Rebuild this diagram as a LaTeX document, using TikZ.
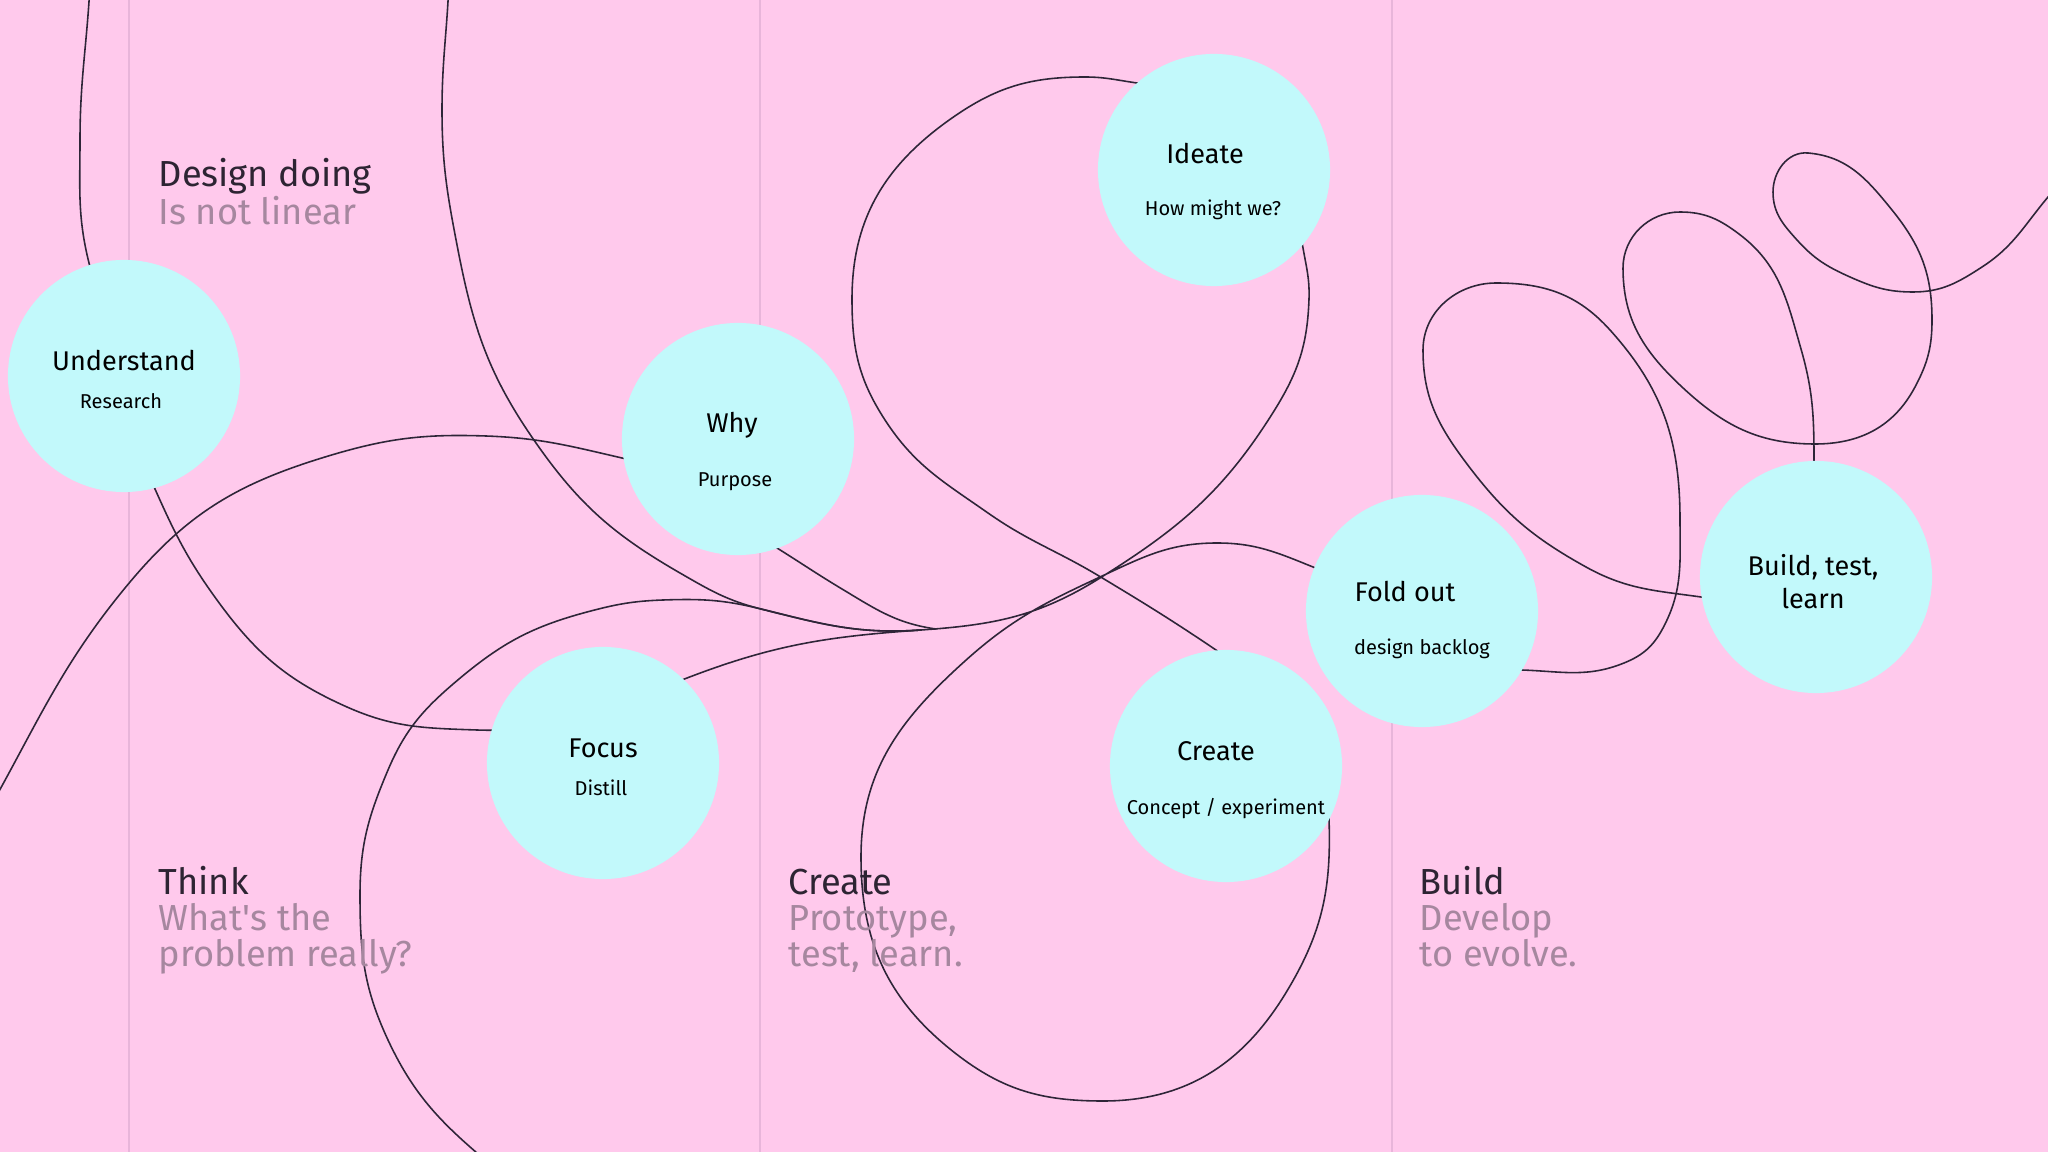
\documentclass[tikz,border=0pt]{standalone}
\usepackage{fontspec}
\setmainfont{Fira Sans}
\usetikzlibrary{backgrounds}

\definecolor{pagepink}{HTML}{FFC9EC}
\definecolor{bubblecyan}{HTML}{C2F9FB}
\definecolor{inkline}{HTML}{2E2538}
\definecolor{headdark}{HTML}{2D2433}
\definecolor{headsoft}{HTML}{A6879F}
\definecolor{rulepink}{HTML}{E8B5DA}

\begin{document}
\begin{tikzpicture}[x=0.01cm, y=-0.01cm,
    bubble/.style={circle, fill=bubblecyan, minimum size=2.32cm, inner sep=0pt},
    maintxt/.style={anchor=base, text=black, font=\fontsize{7.7}{9.7}\selectfont},
    subtxt/.style={anchor=base, text=black, font=\fontsize{5.7}{7}\selectfont},
    headtxt/.style={anchor=base west, inner sep=0pt, text=headdark, font=\fontsize{10.3}{12}\selectfont},
    headsub/.style={headtxt, text=headsoft},
    scribble/.style={draw=inkline, line width=0.45pt, line join=round, line cap=round}]

        % page size
        \useasboundingbox (0,0) rectangle (2048,1152);

        % the bubbles
        \node[bubble] (und) at (124,376) {};
        \node[bubble] (why) at (738,439) {};
        \node[bubble] (ideate) at (1214,170) {};
        \node[bubble] (focus) at (603,763) {};
        \node[bubble] (create) at (1226,766) {};
        \node[bubble] (fold) at (1422,611) {};
        \node[bubble] (build) at (1816,577) {};

        % bubble texts
        \node[maintxt] (undtitle) at (124,371) {Understand};
        \node[subtxt] (undsub) at (121,409) {Research};
        \node[maintxt] (whytitle) at (732,433) {Why};
        \node[subtxt] (whysub) at (735,487) {Purpose};
        \node[maintxt] (ideatetitle) at (1205,164) {Ideate};
        \node[subtxt] (ideatesub) at (1213,216) {How might we?};
        \node[maintxt] (focustitle) at (603,757) {Focus};
        \node[subtxt] (focussub) at (601,795) {Distill};
        \node[maintxt] (createtitle) at (1216,760) {Create};
        \node[subtxt] (createsub) at (1226,814) {Concept / experiment};
        \node[maintxt] (foldtitle) at (1405,602) {Fold out};
        \node[subtxt] (foldsub) at (1422,655) {design backlog};
        \node[maintxt] (buildtitle) at (1813,575) {Build, test,};
        \node[maintxt] (buildtitleb) at (1813,608) {learn};

        % headings
        \node[headtxt] (design) at (158,187) {Design doing};
        \node[headsub] (designsub) at (158,225) {Is not linear};
        \node[headtxt] (think) at (158,894) {Think};
        \node[headsub] (thinka) at (158,930) {What\textquotesingle s the};
        \node[headsub] (thinkb) at (158,966) {problem really?};
        \node[headtxt] (proto) at (788,894) {Create};
        \node[headsub] (protoa) at (788,930) {Prototype,};
        \node[headsub] (protob) at (788,966) {test, learn.};
        \node[headtxt] (dev) at (1419,894) {Build};
        \node[headsub] (deva) at (1419,930) {Develop};
        \node[headsub] (devb) at (1419,966) {to evolve.};

        \begin{scope}[on background layer]
            % background and column rules
            \fill[pagepink] (0,0) rectangle (2048,1152);
            \foreach \xcol in {129,760,1392}
                \draw[rulepink, line width=0.35pt] (\xcol,0) -- (\xcol,1152);
            \clip (0,0) rectangle (2048,1152);

            % the long scribble, through every bubble
            \draw[scribble] (90,-15)
                to[out=-93,in=90] (80,140)
                to[out=-90,in=104] (89,263)
                to[out=-76,in=106] (und.center)
                to[out=-74,in=114] (155,489)
                to[out=-66,in=126] (217,600)
                to[out=-54,in=156] (347,707)
                to[out=-24,in=178] (477,730)
                to[out=-2,in=201] (687,678)
                to[out=21,in=184] (921,630)
                to[out=4,in=212] (1100,578)
                to[out=32,in=238] (1274,411)
                to[out=58,in=268] (1309,299)
                to[out=88,in=280] (1303,248)
                to[out=100,in=-8] (1137,83)
                to[out=172,in=0] (1085,77)
                to[out=180,in=35] (952,118)
                to[out=215,in=90] (852,299)
                to[out=-90,in=123] (885,420)
                to[out=-57,in=145] (988,513)
                to[out=-35,in=149] (1099,576)
                to[out=-31,in=146] (1216,650)
                to[out=-34,in=92] (1329,819)
                to[out=-88,in=59] (1287,991)
                to[out=-121,in=0] (1103,1101)
                to[out=180,in=-38] (955,1053)
                to[out=142,in=-90] (861,857)
                to[out=90,in=-138] (965,661)
                to[out=42,in=-155] (1100,577)
                to[out=25,in=180] (1217,543)
                to[out=0,in=158] (1313,567)
                to[out=-22,in=178] (1522,670)
                to[out=-2,in=-158] (1624,663)
                to[out=22,in=-118] (1663,628)
                to[out=62,in=-90] (1680,520)
                to[out=90,in=-48] (1610,330)
                to[out=132,in=0] (1496,283)
                to[out=180,in=90] (1423,350)
                to[out=-90,in=127] (1467,464)
                to[out=-53,in=151] (1586,567)
                to[out=-29,in=172] (1701,597)
                to[out=-8,in=-135] (build.center)
                to[out=45,in=-90] (1814,462)
                to[out=90,in=-74] (1801,349)
                to[out=106,in=-37] (1739,234)
                to[out=143,in=0] (1680,212)
                to[out=180,in=90] (1623,268)
                to[out=-90,in=137] (1682,387)
                to[out=-43,in=180] (1815,444)
                to[out=0,in=-118] (1915,387)
                to[out=62,in=-90] (1932,320)
                to[out=90,in=-51] (1892,210)
                to[out=129,in=-5] (1808,153)
                to[out=175,in=90] (1773,192)
                to[out=-90,in=132] (1797,240)
                to[out=-48,in=156] (1850,277)
                to[out=-24,in=180] (1913,292)
                to[out=0,in=-147] (1982,267)
                to[out=33,in=-130] (2048,197)
                to[out=50,in=-127] (2090,140);

            % big arc from the top
            \draw[scribble] (449,-20)
                to[out=-92,in=90] (442,110)
                to[out=-90,in=101] (458,250)
                to[out=-79,in=125] (536,443)
                to[out=-55,in=150] (680,573)
                to[out=-30,in=166] (761,609)
                to[out=-14,in=184] (921,630);

            % loop round focus
            \draw[scribble] (497,1170)
                to[out=140,in=-65] (388,1040)
                to[out=115,in=-90] (360,895)
                to[out=90,in=-113] (388,770)
                to[out=67,in=-140] (459,679)
                to[out=40,in=-165] (587,612)
                to[out=15,in=-178] (663,600)
                to[out=2,in=166] (761,609)
                to[out=-14,in=184] (921,630);

            % arc from the left edge into why
            \draw[scribble] (-20,825)
                to[out=60,in=-130] (130,582)
                to[out=50,in=-163] (325,457)
                to[out=17,in=178] (486,436)
                to[out=-2,in=167] (622,458)
                to[out=-13,in=148] (777,548)
                to[out=-32,in=149] (842,589)
                to[out=-31,in=172] (936,629);
        \end{scope}
\end{tikzpicture}
\end{document}
